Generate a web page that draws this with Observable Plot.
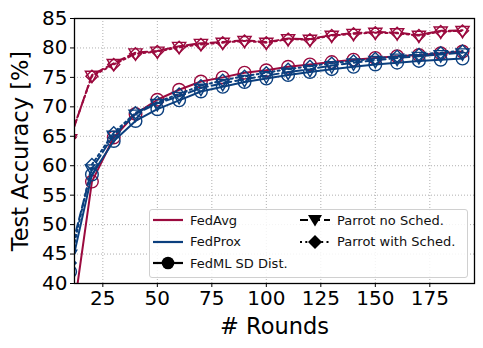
<!DOCTYPE html>
<html>
<head>
<meta charset="utf-8">
<script src="https://cdn.jsdelivr.net/npm/d3@7"></script>
<script src="https://cdn.jsdelivr.net/npm/@observablehq/plot@0.6"></script>
<style>
  html, body { margin: 0; padding: 0; background: #fff; }
  #wrap { position: relative; width: 483px; height: 348px; font-family: "DejaVu Sans", sans-serif; }
  #legend { position: absolute; left: 149px; top: 209px; width: 317px; height: 67px;
    border: 1px solid #d0d0d0; border-radius: 3px; background: rgba(255,255,255,0.85); }
  .item { position: absolute; display: flex; align-items: center; font-size: 13px; color: #111; white-space: nowrap; }
  .item svg { margin-right: 7px; }
</style>
</head>
<body>
<div id="wrap"><div id="legend"></div></div>
<script>
const rounds = [10, 20, 30, 40, 50, 60, 70, 80, 90, 100, 110, 120, 130, 140, 150, 160, 170, 180, 190];
const fedAvgSD      = [31.0, 57.3, 64.8, 68.8, 71.2, 72.9, 74.3, 75.0, 75.8, 76.2, 76.8, 77.2, 77.6, 78.0, 78.3, 78.6, 78.8, 79.1, 79.4];
const fedAvgNoSched = [64.6, 75.4, 77.4, 79.2, 79.5, 80.3, 80.8, 81.0, 81.3, 81.0, 81.6, 81.5, 82.2, 82.5, 82.7, 82.6, 82.2, 82.9, 83.0];
const fedAvgSched   = [64.8, 75.2, 77.2, 79.0, 79.4, 80.1, 80.6, 80.9, 81.2, 80.9, 81.5, 81.4, 82.1, 82.4, 82.6, 82.5, 82.1, 82.8, 82.9];
const fedProxSD      = [42.0, 58.5, 64.2, 67.6, 69.6, 71.1, 72.6, 73.4, 74.2, 74.8, 75.4, 75.9, 76.4, 76.8, 77.2, 77.5, 77.8, 78.0, 78.2];
const fedProxNoSched = [45.0, 59.5, 65.2, 68.8, 70.6, 71.8, 73.2, 74.0, 74.7, 75.3, 75.9, 76.4, 77.0, 77.5, 77.9, 78.3, 78.6, 78.9, 79.2];
const fedProxSched   = [43.5, 60.2, 65.6, 69.0, 70.8, 72.2, 73.6, 74.5, 75.2, 75.8, 76.4, 76.9, 77.4, 77.8, 78.2, 78.6, 78.9, 79.2, 79.5];
const methods = ["FedAvg", "FedProx"];
const variants = ["FedML SD Dist.", "Parrot no Sched.", "Parrot with Sched."];
const xTicks = [25, 50, 75, 100, 125, 150, 175];
const yTicks = [40, 45, 50, 55, 60, 65, 70, 75, 80, 85];

const colors = {"FedAvg": "#9b0a3e", "FedProx": "#0b3f7e"};
const dashes = {"FedML SD Dist.": null, "Parrot no Sched.": "8,4", "Parrot with Sched.": "2,3.3"};

const seriesDefs = [
  ["FedAvg", "FedML SD Dist.", fedAvgSD],
  ["FedAvg", "Parrot no Sched.", fedAvgNoSched],
  ["FedAvg", "Parrot with Sched.", fedAvgSched],
  ["FedProx", "FedML SD Dist.", fedProxSD],
  ["FedProx", "Parrot no Sched.", fedProxNoSched],
  ["FedProx", "Parrot with Sched.", fedProxSched]
];
const rows = seriesDefs.map(([m, v, vals]) => rounds.map((r, i) => ({round: r, acc: vals[i], method: m, variant: v})));

const marks = [
  Plot.gridX(xTicks, {stroke: "#b0b0b0", strokeOpacity: 1, strokeDasharray: "1,2"}),
  Plot.gridY(yTicks, {stroke: "#b0b0b0", strokeOpacity: 1, strokeDasharray: "1,2"})
];
for (const data of rows) {
  const m = data[0].method, v = data[0].variant;
  marks.push(Plot.line(data, {x: "round", y: "acc", stroke: colors[m], strokeWidth: 2, strokeDasharray: dashes[v], clip: true}));
  if (v === "FedML SD Dist.") {
    marks.push(Plot.dot(data, {x: "round", y: "acc", r: 6.3, stroke: colors[m], strokeWidth: 1.4, fill: "none", clip: true}));
  } else if (v === "Parrot no Sched.") {
    marks.push(Plot.dot(data, {x: "round", y: "acc", symbol: "triangle", rotate: 180, r: 4.9, stroke: colors[m], strokeWidth: 1.4, fill: "none", clip: true}));
  } else {
    marks.push(Plot.dot(data, {x: "round", y: "acc", symbol: "diamond2", r: 5.4, stroke: colors[m], strokeWidth: 1.4, fill: "none", clip: true}));
  }
}
marks.push(Plot.frame({stroke: "black", strokeWidth: 1.3}));
marks.push(Plot.axisX(xTicks, {fontSize: 20, tickSize: 4, tickPadding: 3, label: null}));
marks.push(Plot.axisX([], {fontSize: 22.5, tickSize: 0, label: "# Rounds", labelAnchor: "center", labelOffset: 50, labelArrow: "none"}));
marks.push(Plot.axisY(yTicks, {fontSize: 20, tickSize: 4, tickPadding: 3, label: null}));
marks.push(Plot.axisY([], {fontSize: 22.5, tickSize: 0, label: "Test Accuracy [%]", labelAnchor: "center", labelOffset: 62, labelArrow: "none"}));

const chart = Plot.plot({
  width: 483, height: 348,
  marginLeft: 74, marginRight: 9, marginTop: 18, marginBottom: 65,
  style: {fontFamily: "DejaVu Sans, sans-serif", color: "#000", background: "white"},
  x: {domain: [12, 195.5]},
  y: {domain: [40, 85]},
  marks
});
document.getElementById("wrap").prepend(chart);

// legend
const legend = document.getElementById("legend");
const entries = [
  {label: methods[0], col: 0, row: 0, color: colors.FedAvg, dash: null, sym: null},
  {label: methods[1], col: 0, row: 1, color: colors.FedProx, dash: null, sym: null},
  {label: variants[0], col: 0, row: 2, color: "#000", dash: null, sym: "circle"},
  {label: variants[1], col: 1, row: 0, color: "#000", dash: "8,4", sym: "tri"},
  {label: variants[2], col: 1, row: 1, color: "#000", dash: "2,3.3", sym: "diamond"}
];
for (const e of entries) {
  const div = document.createElement("div");
  div.className = "item";
  div.style.left = (e.col === 0 ? 3 : 150) + "px";
  div.style.top = (1 + e.row * 21.5) + "px";
  let sym = "";
  if (e.sym === "circle") sym = `<circle cx="15" cy="9" r="6.3" fill="#000"/>`;
  if (e.sym === "tri") sym = `<path d="M8,4 L22,4 L15,15.5 Z" fill="#000"/>`;
  if (e.sym === "diamond") sym = `<path d="M15,2 L22,9 L15,16 L8,9 Z" fill="#000"/>`;
  div.innerHTML = `<svg width="30" height="18"><line x1="0" x2="30" y1="9" y2="9" stroke="${e.color}" stroke-width="2.2" ${e.dash ? `stroke-dasharray="${e.dash}"` : ""}/>${sym}</svg><span>${e.label}</span>`;
  legend.appendChild(div);
}
</script>
</body>
</html>
